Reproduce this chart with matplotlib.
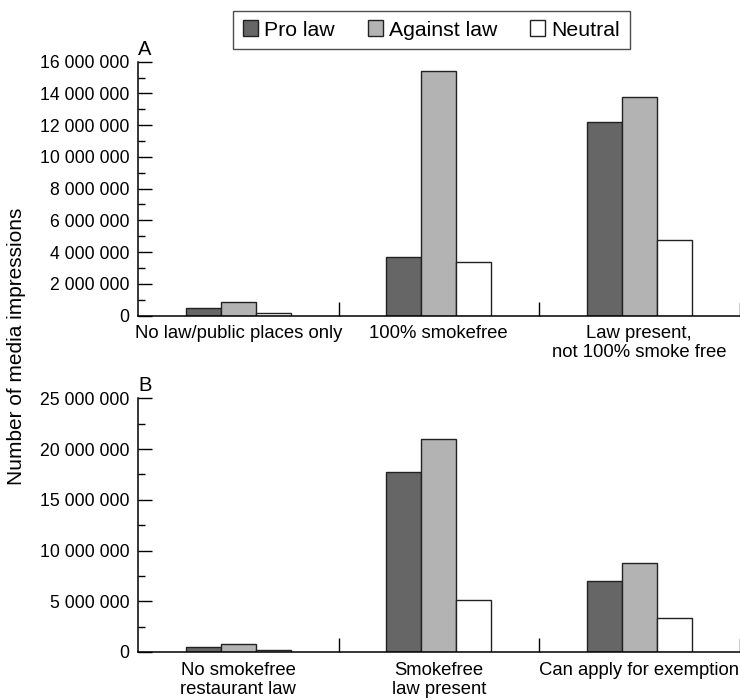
import matplotlib
matplotlib.use("Agg")
import matplotlib.pyplot as plt
import numpy as np
from matplotlib.patches import Patch
from matplotlib.ticker import FuncFormatter, MultipleLocator

plt.rcParams['font.family'] = ['Liberation Sans', 'DejaVu Sans']

series = ["Pro law", "Against law", "Neutral"]
colors = ["#666666", "#b3b3b3", "#ffffff"]

cats_a = ["No law/public places only", "100% smokefree", "Law present,\nnot 100% smoke free"]
pro_a = [500000, 3660000, 12200000]
against_a = [820000, 15390000, 13750000]
neutral_a = [130000, 3380000, 4770000]

cats_b = ["No smokefree\nrestaurant law", "Smokefree\nlaw present", "Can apply for exemption"]
pro_b = [460000, 17700000, 7030000]
against_b = [790000, 20980000, 8800000]
neutral_b = [160000, 5120000, 3380000]

W, H = 740, 700
fig = plt.figure(figsize=(W / 100, H / 100), dpi=100)

def px_axes(left, top, right, bottom):
    return fig.add_axes([left / W, 1 - bottom / H, (right - left) / W, (bottom - top) / H])

ax_a = px_axes(138, 61.7, 739.5, 315.5)
ax_b = px_axes(138, 398.3, 739.5, 652)

fmt = FuncFormatter(lambda v, p: "0" if v == 0 else f"{int(v):,}".replace(",", " "))
bw = 0.175

def draw(ax, cats, data, ymax, major, minor, label):
    x = np.arange(len(cats))
    for i, (vals, c) in enumerate(zip(data, colors)):
        ax.bar(x + (i - 1) * bw, vals, bw, color=c, edgecolor="#222222", linewidth=1.0, zorder=2)
    ax.set_xlim(-0.5, 2.5)
    ax.set_ylim(0, ymax)
    ax.spines['top'].set_visible(False)
    ax.spines['right'].set_visible(False)
    for s in ('left', 'bottom'):
        ax.spines[s].set_linewidth(1.1)
        ax.spines[s].set_zorder(3)
    ax.yaxis.set_major_locator(MultipleLocator(major))
    ax.yaxis.set_minor_locator(MultipleLocator(minor))
    ax.yaxis.set_major_formatter(fmt)
    ax.tick_params(axis='y', which='major', direction='in', length=10, width=1.0, labelsize=12.7, pad=6)
    ax.tick_params(axis='y', which='minor', direction='in', length=5, width=1.0)
    ax.set_xticks(x)
    ax.set_xticklabels(cats, fontsize=13.3, linespacing=1.15)
    ax.set_xticks([0.5, 1.5, 2.5], minor=True)
    ax.tick_params(axis='x', which='major', length=0, pad=7)
    ax.tick_params(axis='x', which='minor', direction='in', length=10, width=1.0)
    ax.text(0, 1.012, label, transform=ax.transAxes, fontsize=14.5, ha='left', va='bottom')

draw(ax_a, cats_a, [pro_a, against_a, neutral_a], 16000000, 2000000, 1000000, "A")
draw(ax_b, cats_b, [pro_b, against_b, neutral_b], 25000000, 5000000, 2500000, "B")

fig.text(7 / W, 1 - 346 / H, "Number of media impressions", rotation=90, fontsize=15,
         ha='left', va='center')

handles = [Patch(facecolor=c, edgecolor="#222222", linewidth=1.0) for c in colors]
leg = fig.legend(handles, series, loc='center', bbox_to_anchor=(431.5 / W, 1 - 30 / H),
                 ncol=3, fontsize=15.3, frameon=True, fancybox=False, edgecolor="#222222",
                 handlelength=0.7, handleheight=0.72, handletextpad=0.3, columnspacing=1.55,
                 borderpad=0.45, borderaxespad=0)
leg.get_frame().set_linewidth(1.0)

fig.savefig("out.png", dpi=100)
